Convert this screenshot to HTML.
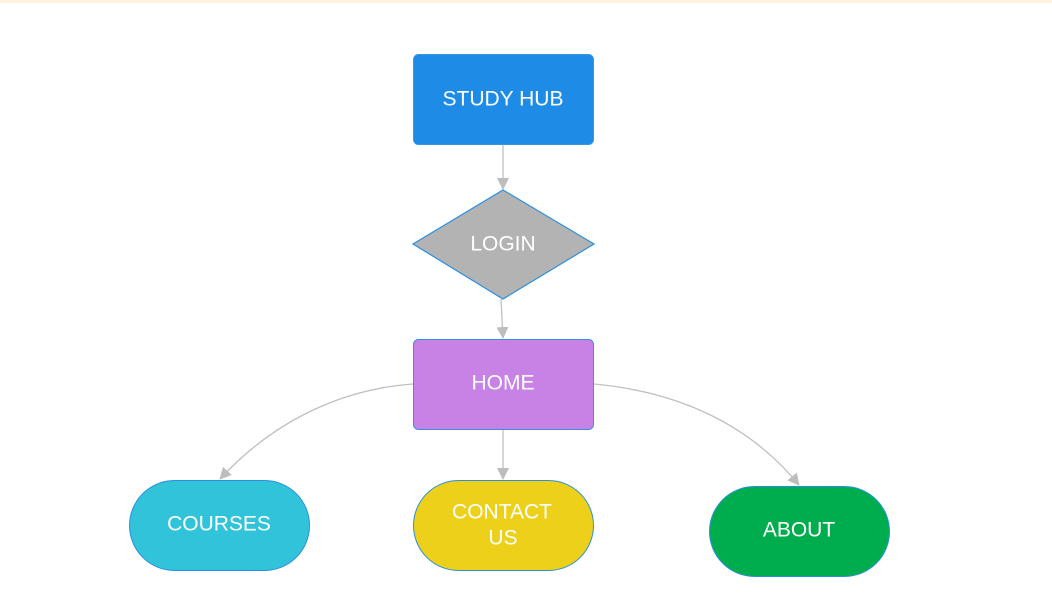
<!DOCTYPE html>
<html><head><meta charset="utf-8"><style>
html,body{margin:0;padding:0;background:#fff;width:1052px;height:605px;overflow:hidden}
text{font-family:"Liberation Sans",sans-serif;font-size:21px;fill:#fff;text-anchor:middle;dominant-baseline:central}
</style></head><body>
<svg width="1052" height="605" viewBox="0 0 1052 605" xmlns="http://www.w3.org/2000/svg">
<defs><marker id="a" markerWidth="12" markerHeight="12" refX="11" refY="6" orient="auto" markerUnits="userSpaceOnUse"><path d="M0,0 L12,6 L0,12 z" fill="#bdbdbd"/></marker></defs>
<rect x="0" y="0" width="1052" height="3" fill="#fdf3dc"/>
<g stroke="#c0c0c0" stroke-width="1.3" fill="none">
<line x1="503" y1="145" x2="503" y2="189" marker-end="url(#a)"/>
<line x1="501" y1="299" x2="503" y2="338" marker-end="url(#a)"/>
<line x1="503" y1="429" x2="503" y2="479" marker-end="url(#a)"/>
<path d="M413,384 C330,390 265,430 220,479" marker-end="url(#a)"/>
<path d="M594,384 C680,392 750,425 799,485" marker-end="url(#a)"/>
</g>
<rect x="413.5" y="54.5" width="180" height="90" rx="5" fill="#1e8ce6" stroke="#3a95e0"/>
<text x="503" y="99">STUDY HUB</text>
<polygon points="503,190 594,244 503,299 413,244" fill="#b3b3b3" stroke="#2d8fe0" stroke-width="1.2"/>
<text x="503" y="244">LOGIN</text>
<rect x="413.5" y="339.5" width="180" height="90" rx="5" fill="#c882e6" stroke="#3a8fe0"/>
<text x="503" y="383">HOME</text>
<rect x="129.5" y="480.5" width="180" height="90" rx="45" fill="#31c3d9" stroke="#2b8fe0"/>
<text x="219" y="524">COURSES</text>
<rect x="413.5" y="480.5" width="180" height="90" rx="45" fill="#edd01a" stroke="#2b8fe0"/>
<text x="502" y="512">CONTACT</text>
<text x="503" y="538">US</text>
<rect x="709.5" y="486.5" width="180" height="90" rx="45" fill="#00ad4e" stroke="#2b8fe0"/>
<text x="799" y="530">ABOUT</text>
</svg>
</body></html>
